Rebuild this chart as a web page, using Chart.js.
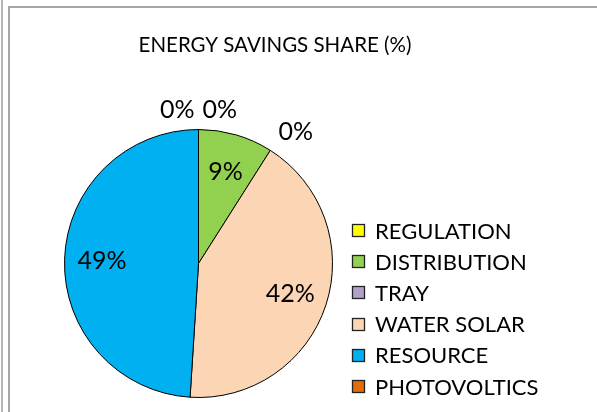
<!DOCTYPE html>
<html>
<head>
<meta charset="utf-8">
<script src="https://cdn.jsdelivr.net/npm/chart.js@4/dist/chart.umd.min.js"></script>
<style>
    body { margin: 0; background: #fff; width: 597px; height: 412px; overflow: hidden; position: relative; }
    #edge { position: absolute; left: 1px; top: 0; width: 2px; height: 412px; background: #b4b4b4; }
    #frame { position: absolute; left: 8px; top: 6px; width: 600px; height: 420px; border-left: 2px solid #a6a6a6; border-top: 2px solid #a6a6a6; }
    #chart { position: absolute; left: 10px; top: 9px; }
</style>
</head>
<body>
<div id="edge"></div>
<div id="frame"></div>
<canvas id="chart" width="587" height="403"></canvas>
<script>
// ---- DATA ----
const categories = ['REGULATION', 'DISTRIBUTION', 'TRAY', 'WATER SOLAR', 'RESOURCE', 'PHOTOVOLTICS'];
const shares = [0, 9, 0, 42, 49, 0];
const sliceColors = ['#ffff00', '#92d050', '#b1a0c7', '#fcd5b4', '#00b0f0', '#e26b0a'];
const chartTitle = 'ENERGY SAVINGS SHARE (%)';

const FONT = 'Lato, "Liberation Sans", sans-serif';

// title drawn by hand so it can sit off-centre from the pie (like the Excel original)
const titlePlugin = {
    id: 'excelTitle',
    afterDraw(chart) {
        const ctx = chart.ctx;
        ctx.save();
        ctx.font = '20.5px ' + FONT;
        ctx.fillStyle = '#000';
        ctx.textAlign = 'center';
        ctx.textBaseline = 'alphabetic';
        ctx.fillText(chartTitle, 265, 43);
        ctx.restore();
    }
};

// legend column on the right
const legendPlugin = {
    id: 'excelLegend',
    afterDraw(chart) {
        const ctx = chart.ctx;
        const ds = chart.data.datasets[0];
        ctx.save();
        ctx.font = '22px ' + FONT;
        ctx.textBaseline = 'alphabetic';
        ctx.textAlign = 'left';
        chart.data.labels.forEach((label, i) => {
            const cy = 222 + i * 31.2;
            ctx.fillStyle = ds.backgroundColor[i];
            ctx.fillRect(342, Math.round(cy - 7), 13, 13);
            ctx.strokeStyle = '#222';
            ctx.lineWidth = 1.3;
            ctx.strokeRect(342.5, Math.round(cy - 7) + 0.5, 12, 12);
            ctx.fillStyle = '#000';
            ctx.fillText(label, 365, cy + 7.5);
        });
        ctx.restore();
    }
};

// percentage labels: inside for real slices, outside for the empty ones
const valueLabelPlugin = {
    id: 'valueLabels',
    afterDatasetsDraw(chart) {
        const ctx = chart.ctx;
        const meta = chart.getDatasetMeta(0);
        const values = chart.data.datasets[0].data;
        ctx.save();
        ctx.font = '25px ' + FONT;
        ctx.fillStyle = '#000';
        meta.data.forEach((arc, i) => {
            const { x, y, startAngle, endAngle, outerRadius } = arc.getProps(['x', 'y', 'startAngle', 'endAngle', 'outerRadius'], true);
            const mid = (startAngle + endAngle) / 2;
            const text = values[i] + '%';
            if (values[i] > 0) {
                const r = outerRadius * 0.72;
                ctx.textAlign = 'center';
                ctx.textBaseline = 'alphabetic';
                ctx.fillText(text, x + Math.cos(mid) * r, y + Math.sin(mid) * r + 9);
            } else {
                const r = outerRadius + 8;
                const fromTop = mid + Math.PI / 2;
                const ax = x + Math.cos(mid) * r;
                const ay = y + Math.sin(mid) * r;
                const rightSide = fromTop < Math.PI;
                ctx.textAlign = rightSide ? 'left' : 'right';
                ctx.textBaseline = 'alphabetic';
                ctx.fillText(text, ax + (rightSide ? 4 : -4), ay - 4);
            }
        });
        ctx.restore();
    }
};

new Chart(document.getElementById('chart'), {
    type: 'pie',
    data: {
        labels: categories,
        datasets: [{
            data: shares,
            backgroundColor: sliceColors,
            borderColor: '#000',
            borderWidth: 1,
            hoverOffset: 0
        }]
    },
    options: {
        responsive: false,
        animation: false,
        layout: { padding: { left: 54, right: 264, top: 120, bottom: 14 } },
        plugins: {
            legend: { display: false },
            title: { display: false },
            tooltip: { enabled: false }
        }
    },
    plugins: [valueLabelPlugin, titlePlugin, legendPlugin]
});
</script>
</body>
</html>
